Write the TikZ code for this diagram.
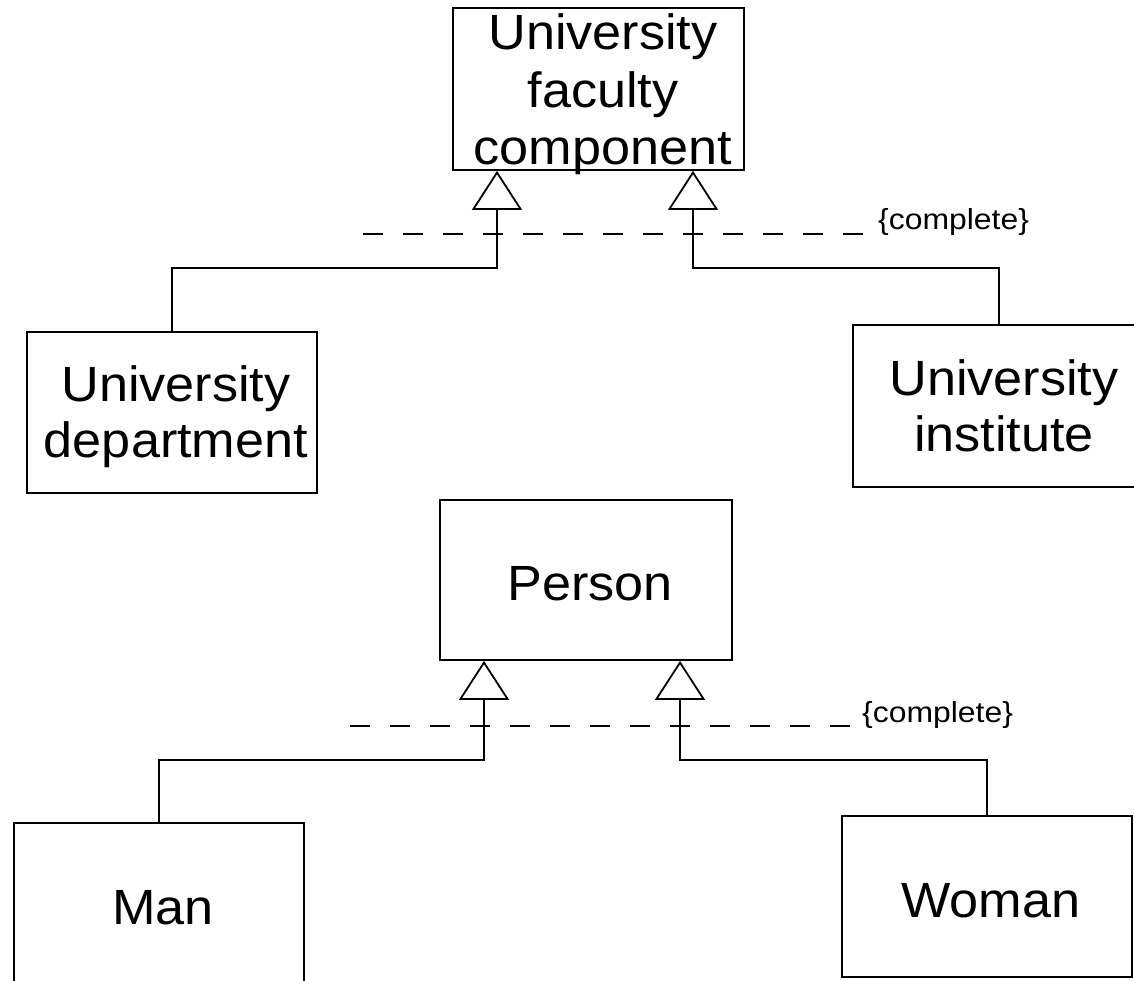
\documentclass[tikz,border=0pt]{standalone}
\usepackage{fontspec}
\setmainfont{Liberation Sans}[FakeStretch=1.055]
\newfontfamily\notefont{Liberation Sans}[FakeStretch=1.1]
\usetikzlibrary{arrows.meta}
\begin{document}
\begin{tikzpicture}[x=1pt,y=-1pt,
  classbox/.style={draw, line width=1.8pt, inner sep=0pt, minimum width=291pt, minimum height=161pt},
  classname/.style={inner sep=0pt, anchor=base, font=\fontsize{49.5}{57.5}\selectfont},
  constraint/.style={inner sep=0pt, anchor=base west, font=\notefont\fontsize{29}{33}\selectfont},
  gen/.style={draw, line width=1.8pt, -{Triangle[open, length=39pt, width=50pt]}},
  setline/.style={draw, line width=1.8pt, dash pattern=on 20pt off 20pt}]
\useasboundingbox (0,0) rectangle (1134,981);
\clip (0,0) rectangle (1134,981);

% upper hierarchy
\node[classbox, minimum height=162pt] (ufc) at (598.5,89) {};
\node[classname] (ufc1) at (603,50) {University};
\node[classname] (ufc2) at (603,108) {faculty};
\node[classname] (ufc3) at (603,165) {component};

\node[classbox, minimum width=290pt] (dep) at (172,412.5) {};
\node[classname] (dep1) at (176,401) {University};
\node[classname] (dep2) at (176,457) {department};

\node[classbox, minimum width=292pt, minimum height=162pt] (inst) at (999,406) {};
\node[classname] (inst1) at (1004,395) {University};
\node[classname] (inst2) at (1004,451) {institute};

\coordinate (g1) at (497,268);
\coordinate (g2) at (693,268);
\draw[gen] (dep.north) |- (g1) -- (g1 |- ufc.south);
\draw[gen] (inst.north) |- (g2) -- (g2 |- ufc.south);

\coordinate (s1a) at (363,234);
\coordinate (s1b) at (863,234);
\draw[setline] (s1a) -- (s1b);
\node[constraint] (c1) at (878,230) {\{complete\}};

% lower hierarchy
\node[classbox, minimum width=292pt, minimum height=160pt] (per) at (586,580) {};
\node[classname] (per1) at (590,600) {Person};

\node[classbox, minimum width=290pt] (man) at (159,903.5) {};
\node[classname] (man1) at (163,924) {Man};

\node[classbox, minimum width=290pt] (wom) at (987,896.5) {};
\node[classname] (wom1) at (991,917) {Woman};

\coordinate (g3) at (484,760);
\coordinate (g4) at (680,760);
\draw[gen] (man.north) |- (g3) -- (g3 |- per.south);
\draw[gen] (wom.north) |- (g4) -- (g4 |- per.south);

\coordinate (s2a) at (350,726);
\coordinate (s2b) at (850,726);
\draw[setline] (s2a) -- (s2b);
\node[constraint] (c2) at (862,722) {\{complete\}};
\end{tikzpicture}
\end{document}
